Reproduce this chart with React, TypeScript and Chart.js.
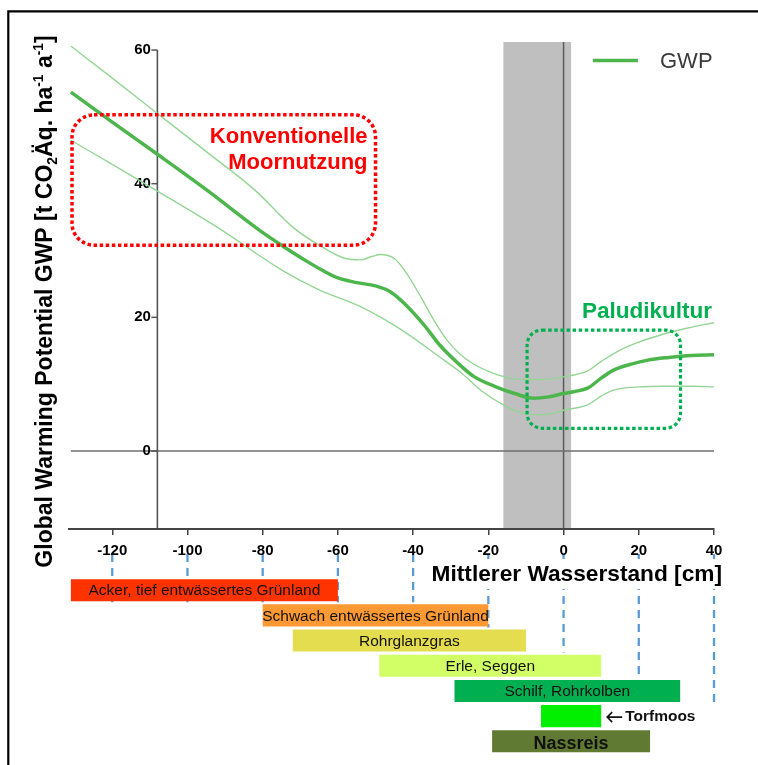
import React, { useEffect, useRef } from 'react';
import { Chart, registerables } from 'chart.js';

Chart.register(...registerables);

const FONT = "'Liberation Sans', Arial, Helvetica, sans-serif";

// ---------- axes ----------
const X_MIN = -131.5;
const X_MAX = 40;
const Y_MIN = -11.67;
const Y_MAX = 61.2;
const TICK_STEP = 20;
const Y_AXIS_AT = -108;
const Y_AXIS_TOP = 60;

// ---------- GWP curve (mean) ----------
const GWP_X = [-131, -120, -108, -95, -81, -75, -68, -64, -60, -55, -50, -46, -42, -37, -33, -28, -24, -18, -13, -8, -4, 0, 3, 6.4, 10, 13.3, 18, 22.4, 28, 34, 40];
const GWP_Y = [53.7, 49.2, 44.4, 39.1, 33.1, 30.8, 28.3, 27.0, 25.9, 25.2, 24.7, 23.8, 21.9, 18.8, 15.9, 13.1, 11.2, 9.6, 8.6, 7.9, 8.1, 8.6, 8.9, 9.4, 10.9, 12.1, 13.0, 13.6, 14.0, 14.3, 14.4];

// ---------- upper bound ----------
const UPPER_X = [-131, -120, -108, -95, -82, -72, -65, -58, -54, -51, -48.7, -45, -42, -38, -34.5, -31, -26, -19, -11, -6, 0, 6.4, 10, 15, 20, 26, 33, 40];
const UPPER_Y = [60.6, 55.8, 50.5, 44.8, 39.0, 33.5, 30.8, 28.8, 28.6, 29.1, 29.4, 28.8, 26.8, 23.1, 19.6, 16.6, 13.8, 11.7, 10.7, 10.7, 11.1, 12.0, 13.4, 15.1, 16.3, 17.4, 18.4, 19.2];

// ---------- lower bound ----------
const LOWER_X = [-131, -120, -108, -91, -75, -65, -54, -43, -33, -27, -22, -16, -11, -7, -3, 0, 6.4, 10, 13.3, 20, 27, 34, 40];
const LOWER_Y = [46.5, 42.9, 38.9, 33.1, 27.1, 24.1, 21.6, 18.1, 14.1, 11.6, 9.1, 6.9, 5.7, 5.4, 5.6, 6.1, 6.9, 8.2, 9.1, 9.6, 9.7, 9.7, 9.6];

// ---------- shaded band (water level range) ----------
const BAND = [-16, 2];

// ---------- annotation boxes (data coordinates) ----------
const RED_BOX_X = [-130.7, -50.0];
const RED_BOX_Y = [30.8, 50.3];
const RED_TEXT = ['Konventionelle', 'Moornutzung'];
const GREEN_BOX_X = [-9.7, 31.1];
const GREEN_BOX_Y = [3.4, 18.1];
const GREEN_TEXT = 'Paludikultur';

// ---------- land-use bars ----------
const BAR_LABELS = [
  'Acker, tief entwässertes Grünland',
  'Schwach entwässertes Grünland',
  'Rohrglanzgras',
  'Erle, Seggen',
  'Schilf, Rohrkolben',
  'Torfmoos',
  'Nassreis',
];
const BAR_START = [-131, -80, -72, -49, -29, -6, -19];
const BAR_END = [-60, -20, -10, 10, 31, 10, 23];
const LABEL_OUTSIDE = [false, false, false, false, false, true, false];
const BAR_COLORS = ['#ff3300', '#ff9933', '#e4dd4f', '#d2ff66', '#00b050', '#00f000', '#617a33'];

// ---------- dashed guide lines ----------
const DASH_TICKS = [-120, -100, -80, -60, -40, -20, 0, 20, 40];
const DASH_END_ROW = [0, 0, 0, 0, 0, 1, 2, 3, 4];

const pts = (xs: number[], ys: number[]) => xs.map((x, i) => ({ x, y: ys[i] }));

function roundRect(ctx: CanvasRenderingContext2D, x0: number, y0: number, x1: number, y1: number, r: number) {
  ctx.beginPath();
  ctx.moveTo(x0 + r, y0);
  ctx.lineTo(x1 - r, y0);
  ctx.arcTo(x1, y0, x1, y0 + r, r);
  ctx.lineTo(x1, y1 - r);
  ctx.arcTo(x1, y1, x1 - r, y1, r);
  ctx.lineTo(x0 + r, y1);
  ctx.arcTo(x0, y1, x0, y1 - r, r);
  ctx.lineTo(x0, y0 + r);
  ctx.arcTo(x0, y0, x0 + r, y0, r);
  ctx.closePath();
}

const backdropPlugin = {
  id: 'backdrop',
  beforeDraw(chart: any) {
    const { ctx, chartArea: a, scales } = chart;
    const x = scales.x;
    const y = scales.y;
    ctx.save();
    // frame
    ctx.strokeStyle = '#000';
    ctx.lineWidth = 2.2;
    ctx.beginPath();
    ctx.moveTo(8.3, chart.height);
    ctx.lineTo(8.3, 11.3);
    ctx.lineTo(chart.width, 11.3);
    ctx.stroke();
    // band
    const bx0 = x.getPixelForValue(BAND[0]);
    const bx1 = x.getPixelForValue(BAND[1]);
    ctx.fillStyle = '#bfbfbf';
    ctx.fillRect(bx0, a.top, bx1 - bx0, a.bottom - a.top);
    // vertical zero line
    ctx.strokeStyle = '#5a5a5a';
    ctx.lineWidth = 1.5;
    const x0 = x.getPixelForValue(0);
    ctx.beginPath();
    ctx.moveTo(x0, a.top);
    ctx.lineTo(x0, a.bottom);
    ctx.stroke();
    // horizontal zero line
    ctx.strokeStyle = '#6e6e6e';
    const y0 = y.getPixelForValue(0);
    ctx.beginPath();
    ctx.moveTo(x.getPixelForValue(GWP_X[0]), y0);
    ctx.lineTo(a.right, y0);
    ctx.stroke();
    // y axis line, tick marks and tick labels
    ctx.strokeStyle = '#555';
    ctx.lineWidth = 1.6;
    const ya = x.getPixelForValue(Y_AXIS_AT);
    ctx.beginPath();
    ctx.moveTo(ya, y.getPixelForValue(Y_AXIS_TOP));
    ctx.lineTo(ya, a.bottom);
    ctx.stroke();
    ctx.lineWidth = 1.5;
    ctx.fillStyle = '#000';
    ctx.font = `bold 15px ${FONT}`;
    ctx.textAlign = 'right';
    ctx.textBaseline = 'middle';
    y.ticks.forEach((t: any) => {
      const py = y.getPixelForValue(t.value);
      ctx.beginPath();
      ctx.moveTo(ya - 6, py);
      ctx.lineTo(ya, py);
      ctx.stroke();
      ctx.fillText(String(t.value), ya - 6.5, py);
    });
    ctx.restore();
  },
};

const overlayPlugin = {
  id: 'overlay',
  afterDatasetsDraw(chart: any) {
    const { ctx, chartArea: a, scales } = chart;
    const x = scales.x;
    const y = scales.y;
    ctx.save();
    // red box
    ctx.setLineDash([3.5, 2.6]);
    ctx.lineWidth = 3.5;
    ctx.strokeStyle = '#ff0000';
    const rx0 = x.getPixelForValue(RED_BOX_X[0]);
    const rx1 = x.getPixelForValue(RED_BOX_X[1]);
    const ry0 = y.getPixelForValue(RED_BOX_Y[1]);
    const ry1 = y.getPixelForValue(RED_BOX_Y[0]);
    roundRect(ctx, rx0, ry0, rx1, ry1, 22);
    ctx.stroke();
    // green box
    ctx.strokeStyle = '#00b050';
    ctx.lineWidth = 3.2;
    const gx0 = x.getPixelForValue(GREEN_BOX_X[0]);
    const gx1 = x.getPixelForValue(GREEN_BOX_X[1]);
    const gy0 = y.getPixelForValue(GREEN_BOX_Y[1]);
    const gy1 = y.getPixelForValue(GREEN_BOX_Y[0]);
    roundRect(ctx, gx0, gy0, gx1, gy1, 15);
    ctx.stroke();
    ctx.setLineDash([]);
    // texts
    ctx.textBaseline = 'middle';
    ctx.textAlign = 'right';
    ctx.fillStyle = '#ff0000';
    ctx.font = `bold 22px ${FONT}`;
    ctx.fillText(RED_TEXT[0], rx1 - 8, ry0 + 22);
    ctx.fillText(RED_TEXT[1], rx1 - 8, ry0 + 48.5);
    ctx.fillStyle = '#00b050';
    ctx.font = `bold 22.5px ${FONT}`;
    ctx.fillText(GREEN_TEXT, a.right - 2, gy0 - 18);

    // legend
    const ly = a.top + 18.5;
    ctx.strokeStyle = chart.data.datasets[0].borderColor;
    ctx.lineWidth = 3.5;
    ctx.beginPath();
    ctx.moveTo(a.right - 121, ly);
    ctx.lineTo(a.right - 76, ly);
    ctx.stroke();
    ctx.fillStyle = '#3a3a3a';
    ctx.textAlign = 'left';
    ctx.font = `22px ${FONT}`;
    ctx.fillText(chart.data.datasets[0].label, a.right - 54, ly + 1);

    // y title (rich text)
    const size = 23;
    const parts = [
      { t: 'Global Warming Potential GWP [t CO', k: 0 },
      { t: '2', k: -1 },
      { t: 'Äq. ha', k: 0 },
      { t: '-1', k: 1 },
      { t: ' a', k: 0 },
      { t: '-1', k: 1 },
      { t: ']', k: 0 },
    ];
    const fontFor = (k: number) => (k === 0 ? `bold ${size}px ${FONT}` : `bold ${size * 0.6}px ${FONT}`);
    let total = 0;
    const widths = parts.map((p) => {
      ctx.font = fontFor(p.k);
      const w = ctx.measureText(p.t).width;
      total += w;
      return w;
    });
    ctx.translate(a.left - 17, (a.top + a.bottom) / 2 + 16);
    ctx.rotate(-Math.PI / 2);
    ctx.textBaseline = 'alphabetic';
    ctx.textAlign = 'left';
    ctx.fillStyle = '#000';
    let cx = -total / 2;
    parts.forEach((p, i) => {
      ctx.font = fontFor(p.k);
      const dy = p.k === -1 ? size * 0.2 : p.k === 1 ? -size * 0.4 : 0;
      ctx.fillText(p.t, cx, dy);
      cx += widths[i];
    });
    ctx.restore();
  },
  afterDraw(chart: any) {
    const { ctx, chartArea: a } = chart;
    ctx.save();
    ctx.font = `bold 22.7px ${FONT}`;
    const text = 'Mittlerer Wasserstand [cm]';
    const w = ctx.measureText(text).width;
    const right = a.right + 8;
    const base = a.bottom + 52;
    ctx.fillStyle = '#fff';
    ctx.fillRect(right - w - 6, base - 22, w + 12, 30);
    ctx.fillStyle = '#000';
    ctx.textAlign = 'right';
    ctx.textBaseline = 'alphabetic';
    ctx.fillText(text, right, base);
    ctx.restore();
  },
};

const dashPlugin = {
  id: 'dashes',
  beforeDatasetsDraw(chart: any) {
    const { ctx, scales } = chart;
    const meta = chart.getDatasetMeta(0);
    ctx.save();
    ctx.strokeStyle = '#5b9bd5';
    ctx.lineWidth = 2.3;
    ctx.setLineDash([8, 6]);
    DASH_TICKS.forEach((v, i) => {
      const bar = meta.data[DASH_END_ROW[i]];
      const { y, height } = bar.getProps(['y', 'height'], true);
      const px = scales.x.getPixelForValue(v);
      ctx.beginPath();
      ctx.moveTo(px, 1);
      ctx.lineTo(px, y + height / 2 + 1);
      ctx.stroke();
    });
    ctx.restore();
  },
};

const barLabelPlugin = {
  id: 'barLabels',
  afterDatasetsDraw(chart: any) {
    const { ctx } = chart;
    const meta = chart.getDatasetMeta(0);
    ctx.save();
    ctx.textBaseline = 'middle';
    ctx.fillStyle = '#111';
    meta.data.forEach((bar: any, i: number) => {
      const { x, base, y } = bar.getProps(['x', 'base', 'y'], true);
      const label = BAR_LABELS[i];
      if (LABEL_OUTSIDE[i]) {
        const sx = Math.max(x, base) + 5;
        ctx.strokeStyle = '#111';
        ctx.lineWidth = 1.6;
        ctx.beginPath();
        ctx.moveTo(sx + 16, y + 1);
        ctx.lineTo(sx + 1, y + 1);
        ctx.moveTo(sx + 6, y - 4);
        ctx.lineTo(sx + 1, y + 1);
        ctx.lineTo(sx + 6, y + 6);
        ctx.stroke();
        ctx.textAlign = 'left';
        ctx.font = `bold 15.5px ${FONT}`;
        ctx.fillText(label, sx + 19, y + 1);
      } else {
        ctx.textAlign = 'center';
        ctx.font = i === BAR_LABELS.length - 1 ? `bold 18px ${FONT}` : `15.5px ${FONT}`;
        ctx.fillText(label, (x + base) / 2, i === BAR_LABELS.length - 1 ? y + 3 : y + 1);
      }
    });
    ctx.restore();
  },
};

export default function App() {
  const mainRef = useRef<HTMLCanvasElement>(null);
  const barRef = useRef<HTMLCanvasElement>(null);

  useEffect(() => {
    const tickFont = { family: FONT, size: 15, weight: 'bold' as const };
    const bars = new Chart(barRef.current as HTMLCanvasElement, {
      type: 'bar',
      data: {
        labels: BAR_LABELS,
        datasets: [
          {
            data: BAR_START.map((s, i) => [s, BAR_END[i]]) as any,
            backgroundColor: BAR_COLORS,
            borderWidth: 0,
            barPercentage: 0.875,
            categoryPercentage: 1,
          },
        ],
      },
      options: {
        indexAxis: 'y',
        responsive: false,
        animation: false,
        devicePixelRatio: 1,
        events: [],
        layout: { padding: { left: 69, right: 44, top: 24.6, bottom: 11.1 } },
        plugins: { legend: { display: false }, tooltip: { enabled: false } },
        scales: {
          x: { type: 'linear', min: X_MIN, max: X_MAX, display: false },
          y: { type: 'category', display: false },
        },
      },
      plugins: [dashPlugin, barLabelPlugin],
    });

    const main = new Chart(mainRef.current as HTMLCanvasElement, {
      type: 'line',
      data: {
        datasets: [
          {
            label: 'GWP',
            data: pts(GWP_X, GWP_Y),
            borderColor: '#4cb64c',
            borderWidth: 3.5,
            pointRadius: 0,
            cubicInterpolationMode: 'monotone',
            fill: false,
          },
          {
            label: 'upper',
            data: pts(UPPER_X, UPPER_Y),
            borderColor: '#95d595',
            borderWidth: 1.4,
            pointRadius: 0,
            cubicInterpolationMode: 'monotone',
            fill: false,
          },
          {
            label: 'lower',
            data: pts(LOWER_X, LOWER_Y),
            borderColor: '#95d595',
            borderWidth: 1.4,
            pointRadius: 0,
            cubicInterpolationMode: 'monotone',
            fill: false,
          },
        ],
      },
      options: {
        responsive: false,
        animation: false,
        devicePixelRatio: 1,
        events: [],
        layout: { padding: { left: 69, right: 44, top: 42, bottom: 236 } },
        plugins: { legend: { display: false }, tooltip: { enabled: false } },
        scales: {
          x: {
            type: 'linear',
            min: X_MIN,
            max: X_MAX,
            position: { y: Y_MIN } as any,
            ticks: { stepSize: TICK_STEP, includeBounds: false, font: tickFont, color: '#000', padding: 8, maxRotation: 0, autoSkip: false },
            grid: { display: true, drawOnChartArea: false, drawTicks: true, tickLength: 5, color: '#444', lineWidth: 1.5 },
            border: { display: true, color: '#444', width: 2 },
          },
          y: {
            type: 'linear',
            min: Y_MIN,
            max: Y_MAX,
            position: { x: Y_AXIS_AT } as any,
            ticks: { stepSize: TICK_STEP, includeBounds: false, display: false },
            grid: { display: false },
            border: { display: false },
          },
        },
      },
      plugins: [backdropPlugin, overlayPlugin],
    });

    return () => {
      main.destroy();
      bars.destroy();
    };
  }, []);

  return (
    <div style={{ position: 'fixed', left: 0, top: 0, width: 758, height: 765, background: '#fff' }}>
      <canvas ref={barRef} width={758} height={212} style={{ position: 'absolute', left: 0, top: 553 }} />
      <canvas ref={mainRef} width={758} height={765} style={{ position: 'absolute', left: 0, top: 0 }} />
    </div>
  );
}
